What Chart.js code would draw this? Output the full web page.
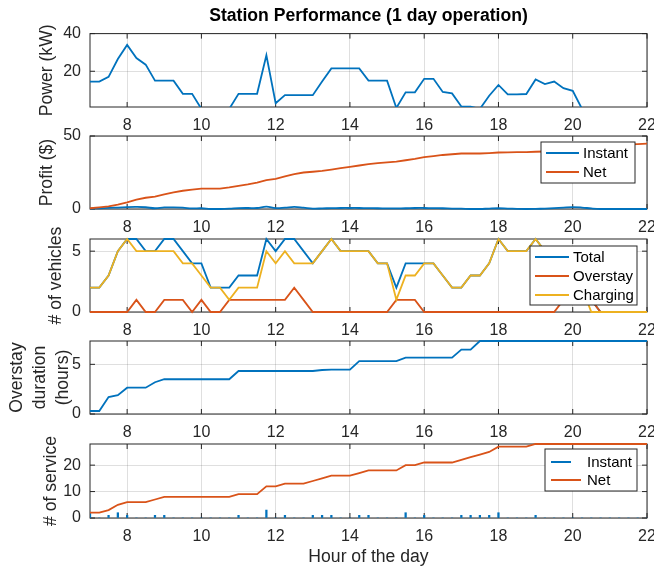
<!DOCTYPE html>
<html>
<head>
<meta charset="utf-8">
<script src="https://cdn.jsdelivr.net/npm/chart.js@4.4.1/dist/chart.umd.min.js"></script>
<style>
  html, body { margin: 0; padding: 0; background: #fff; overflow: hidden; }
  body { width: 654px; height: 567px; position: relative; }
  canvas { position: absolute; left: 0; }
</style>
</head>
<body>
<canvas id="powerChart" width="654" height="137" style="top:0px"></canvas>
<canvas id="profitChart" width="654" height="129" style="top:110px"></canvas>
<canvas id="vehicleChart" width="654" height="129" style="top:213px"></canvas>
<canvas id="overstayChart" width="654" height="129" style="top:315px"></canvas>
<canvas id="serviceChart" width="654" height="150" style="top:418px"></canvas>
<script>
// Data (15 minute steps, 7:00 to 22:00)
const hours = [7, 7.25, 7.5, 7.75, 8, 8.25, 8.5, 8.75, 9, 9.25, 9.5, 9.75, 10, 10.25, 10.5, 10.75,
  11, 11.25, 11.5, 11.75, 12, 12.25, 12.5, 12.75, 13, 13.25, 13.5, 13.75, 14, 14.25, 14.5, 14.75,
  15, 15.25, 15.5, 15.75, 16, 16.25, 16.5, 16.75, 17, 17.25, 17.5, 17.75, 18, 18.25, 18.5, 18.75,
  19, 19.25, 19.5, 19.75, 20, 20.25, 20.5, 20.75, 21, 21.25, 21.5, 21.75, 22];

const powerKW = [14.5, 14.5, 17, 26.5, 34, 27, 23.5, 15, 15, 15,
  8, 8, 0, 0, 0, 0, 8, 8, 8, 28.5,
  3, 7.3, 7.3, 7.3, 7.3, 14.5, 21.5, 21.5, 21.5, 21.5,
  15, 15, 15, 0.5, 8.8, 8.8, 16, 16, 9, 8.2,
  1.3, 1.2, 0, 7, 12.7, 7.7, 7.7, 7.9, 15.6, 13.2,
  14.5, 11, 9.6, 0, 0, 0, 0, 0, 0, 0, 0];

const profitInstant = [0.3, 0.5, 0.8, 1.0, 1.3, 1.4, 1.2, 0.5, 1.1, 1.1,
  0.9, 0.4, 0.5, 0, 0, 0.2, 0.6, 0.7, 0.7, 1.6,
  0.6, 0.9, 1.4, 0.9, 0.3, 0.4, 0.6, 0.7, 0.7, 0.7,
  0.6, 0.5, 0.4, 0.4, 0.5, 0.7, 0.7, 0.6, 0.5, 0.3,
  0.2, 0, 0, 0.3, 0.5, 0.3, 0.1, 0, 0.1, 0.3,
  0.6, 1.0, 1.3, 1.0, 0.4, 0, 0, 0, 0, 0, 0];

const profitNet = [0.5, 1.1, 1.8, 3, 4.5, 6.4, 7.7, 8.5, 10, 11.4,
  12.5, 13.2, 13.9, 13.9, 13.9, 14.8, 15.9, 16.8, 18, 19.8,
  20.7, 22.3, 23.9, 25, 25.5, 26.1, 27, 28, 28.9, 29.8,
  30.7, 31.4, 31.9, 32.5, 33.4, 34.3, 35.5, 36.2, 37, 37.5,
  38, 38, 38, 38.3, 38.7, 38.8, 38.9, 39, 39.2, 39.4,
  39.7, 40.3, 41.2, 42, 42.5, 43, 43.5, 43.9, 44.2, 44.5, 44.8];

const vehiclesTotal = [2, 2, 3, 5, 6, 6, 5, 5, 6, 6,
  5, 4, 4, 2, 2, 2, 3, 3, 3, 6,
  5, 6, 6, 5, 4, 5, 6, 5, 5, 5,
  5, 4, 4, 2, 4, 4, 4, 4, 3, 2,
  2, 3, 3, 4, 6, 5, 5, 5, 6, 5,
  5, 5, 4, 3, 1, 0, 0, 0, 0, 0, 0];

const vehiclesOverstay = [0, 0, 0, 0, 0, 1, 0, 0, 1, 1,
  1, 0, 1, 0, 0, 1, 1, 1, 1, 1,
  1, 1, 2, 1, 0, 0, 0, 0, 0, 0,
  0, 0, 0, 1, 1, 1, 0, 0, 0, 0,
  0, 0, 0, 0, 0, 0, 0, 0, 0, 0,
  0, 1, 1, 1, 1, 0, 0, 0, 0, 0, 0];

const vehiclesCharging = [2, 2, 3, 5, 6, 5, 5, 5, 5, 5,
  4, 4, 3, 2, 2, 1, 2, 2, 2, 5,
  4, 5, 4, 4, 4, 5, 6, 5, 5, 5,
  5, 4, 4, 1, 3, 3, 4, 4, 3, 2,
  2, 3, 3, 4, 6, 5, 5, 5, 6, 5,
  5, 4, 3, 2, 0, 0, 0, 0, 0, 0, 0];

const overstayHours = [0.3, 0.3, 1.7, 1.9, 2.65, 2.65, 2.65, 3.2, 3.5, 3.5,
  3.5, 3.5, 3.5, 3.5, 3.5, 3.5, 4.33, 4.33, 4.33, 4.33,
  4.33, 4.33, 4.33, 4.33, 4.33, 4.43, 4.46, 4.46, 4.46, 5.33,
  5.33, 5.33, 5.33, 5.33, 5.67, 5.67, 5.67, 5.67, 5.67, 5.67,
  6.48, 6.48, 7.35, 7.35, 7.35, 7.35, 7.35, 7.35, 7.35, 7.35,
  7.35, 7.35, 7.35, 7.35, 7.35, 7.35, 7.35, 7.35, 7.35, 7.35, 7.35];

const serviceInstant = [2, 0, 1, 2, 1, 0, 0, 1, 1, 0,
  0, 0, 0, 0, 0, 0, 1, 0, 0, 3,
  0, 1, 0, 0, 1, 1, 1, 0, 0, 1,
  1, 0, 0, 0, 2, 0, 1, 0, 0, 0,
  1, 1, 1, 1, 2, 0, 0, 0, 1, 0,
  0, 0, 0, 0, 0, 0, 0, 0, 0, 0, 0];

const serviceNet = [2, 2, 3, 5, 6, 6, 6, 7, 8, 8,
  8, 8, 8, 8, 8, 8, 9, 9, 9, 12,
  12, 13, 13, 13, 14, 15, 16, 16, 16, 17,
  18, 18, 18, 18, 20, 20, 21, 21, 21, 21,
  22, 23, 24, 25, 27, 27, 27, 27, 28, 28,
  28, 28, 28, 28, 28, 28, 28, 28, 28, 28, 28];

const xTicks = [8, 10, 12, 14, 16, 18, 20, 22];

const AXIS_COLOR = "#262626";
const GRID_COLOR = "rgba(38,38,38,0.15)";
const COLORS = { blue: "#0072BD", orange: "#D95319", yellow: "#EDB120" };
const FONT = "'Liberation Sans', Arial, Helvetica, sans-serif";

function series(values) {
  return hours.map((h, i) => ({ x: h, y: values[i] }));
}

// Box round the plot area with inward tick marks (matlab style)
const axesBox = {
  id: "axesBox",
  beforeDatasetsDraw(chart) {
    const { ctx, chartArea: a, scales } = chart;
    const tl = 5;
    ctx.save();
    ctx.strokeStyle = AXIS_COLOR;
    ctx.lineWidth = 1;
    ctx.strokeRect(a.left, a.top, a.right - a.left, a.bottom - a.top);
    ctx.beginPath();
    scales.x.ticks.forEach((t) => {
      const px = scales.x.getPixelForValue(t.value);
      ctx.moveTo(px, a.bottom);
      ctx.lineTo(px, a.bottom - tl);
      ctx.moveTo(px, a.top);
      ctx.lineTo(px, a.top + tl);
    });
    scales.y.ticks.forEach((t) => {
      const py = scales.y.getPixelForValue(t.value);
      ctx.moveTo(a.left, py);
      ctx.lineTo(a.left + tl, py);
      ctx.moveTo(a.right, py);
      ctx.lineTo(a.right - tl, py);
    });
    ctx.stroke();
    ctx.restore();
  },
};

// Legend box drawn inside the axes, top right
const boxLegend = {
  id: "boxLegend",
  afterDatasetsDraw(chart, args, opts) {
    if (!opts.box) return;
    const ctx = chart.ctx;
    const [x, y, w, h] = opts.box;
    ctx.save();
    ctx.fillStyle = "#fff";
    ctx.fillRect(x, y, w, h);
    ctx.strokeStyle = AXIS_COLOR;
    ctx.lineWidth = 1;
    ctx.strokeRect(x, y, w, h);
    ctx.font = "15px " + FONT;
    ctx.textBaseline = "middle";
    ctx.fillStyle = "#000";
    chart.data.datasets.forEach((ds, i) => {
      const ry = opts.rows[i];
      const [l0, l1] = opts.lines[i] || opts.lines[0];
      ctx.strokeStyle = ds.borderColor || ds.backgroundColor;
      ctx.lineWidth = 2;
      ctx.beginPath();
      ctx.moveTo(l0, ry);
      ctx.lineTo(l1, ry);
      ctx.stroke();
      ctx.fillText(ds.label, opts.textX, ry + 1);
    });
    ctx.restore();
  },
};

function createPanel(canvasId, cfg) {
  const ctx = document.getElementById(canvasId).getContext("2d");
  const top = cfg.top;

  // legend positions are given in page pixels, move them into the canvas
  let legend = false;
  if (cfg.legend) {
    const b = cfg.legend.box;
    legend = {
      box: [b[0], b[1] - top, b[2], b[3]],
      rows: cfg.legend.rows.map((r) => r - top),
      lines: cfg.legend.lines,
      textX: cfg.legend.textX,
    };
  }

  const n = cfg.datasets.length;
  cfg.datasets.forEach((ds, i) => {
    ds.order = n - i; // later series are drawn on top
  });

  return new Chart(ctx, {
    type: "line",
    data: { datasets: cfg.datasets },
    options: {
      responsive: false,
      animation: false,
      events: [],
      layout: { padding: { left: cfg.yTitleLeft, right: 7, top: cfg.padTop, bottom: 0 } },
      elements: {
        point: { radius: 0 },
        line: { borderWidth: 1.8, tension: 0 },
      },
      plugins: {
        legend: { display: false },
        tooltip: { enabled: false },
        title: cfg.title
          ? {
              display: true,
              text: cfg.title,
              fullSize: false,
              color: "#000",
              font: { family: FONT, size: 17.6, weight: "bold" },
              padding: { top: 6, bottom: 6.5 },
            }
          : { display: false },
        boxLegend: legend,
      },
      scales: {
        x: {
          type: "linear",
          min: 7,
          max: 22,
          offset: false,
          afterBuildTicks: (axis) => {
            axis.ticks = xTicks.map((v) => ({ value: v }));
          },
          afterFit: (scale) => {
            scale.height = cfg.xHeight;
            scale.paddingLeft = 0;
            scale.paddingRight = 0;
          },
          grid: { color: GRID_COLOR, drawTicks: false, offset: false },
          border: { display: false },
          ticks: {
            color: AXIS_COLOR,
            font: { family: FONT, size: 16 },
            padding: 9,
            maxRotation: 0,
            autoSkip: false,
          },
          title: cfg.xTitle
            ? {
                display: true,
                text: cfg.xTitle,
                color: AXIS_COLOR,
                font: { family: FONT, size: 17.6 },
                padding: 0,
              }
            : { display: false },
        },
        y: {
          min: cfg.yMin,
          max: cfg.yMax,
          afterBuildTicks: (axis) => {
            axis.ticks = cfg.yTicks.map((v) => ({ value: v }));
          },
          afterFit: (scale) => {
            scale.width = 90 - cfg.yTitleLeft;
            scale.paddingTop = 0;
            scale.paddingBottom = 0;
          },
          grid: { color: GRID_COLOR, drawTicks: false },
          border: { display: false },
          ticks: {
            color: AXIS_COLOR,
            font: { family: FONT, size: 16 },
            padding: 9,
          },
          title: {
            display: true,
            text: cfg.yTitle,
            color: AXIS_COLOR,
            font: { family: FONT, size: 17.6, lineHeight: cfg.yTitleLineHeight || 1.2 },
            padding: 0,
          },
        },
      },
    },
    plugins: [axesBox, boxLegend],
  });
}

createPanel("powerChart", {
  top: 0,
  padTop: 0,
  title: "Station Performance (1 day operation)",
  yTitle: "Power (kW)",
  yTitleLeft: 37,
  yMin: 1,
  yMax: 40,
  yTicks: [20, 40],
  xHeight: 30,
  datasets: [
    { label: "Power", data: series(powerKW), borderColor: COLORS.blue },
  ],
});

createPanel("profitChart", {
  top: 110,
  padTop: 26,
  yTitle: "Profit ($)",
  yTitleLeft: 37,
  yMin: 0,
  yMax: 50,
  yTicks: [0, 50],
  xHeight: 30,
  datasets: [
    { label: "Instant", data: series(profitInstant), borderColor: COLORS.blue, tension: 0.4, clip: 2 },
    { label: "Net", data: series(profitNet), borderColor: COLORS.orange, clip: 2 },
  ],
  legend: {
    box: [541, 142, 94, 41],
    rows: [153, 172],
    lines: [[546, 579]],
    textX: 583,
  },
});

createPanel("vehicleChart", {
  top: 213,
  padTop: 26,
  yTitle: "# of vehicles",
  yTitleLeft: 46,
  yMin: 0,
  yMax: 6,
  yTicks: [0, 5],
  xHeight: 30,
  datasets: [
    { label: "Total", data: series(vehiclesTotal), borderColor: COLORS.blue, clip: 2 },
    { label: "Overstay", data: series(vehiclesOverstay), borderColor: COLORS.orange, clip: 2 },
    { label: "Charging", data: series(vehiclesCharging), borderColor: COLORS.yellow, clip: 2 },
  ],
  legend: {
    box: [530, 246, 107, 59],
    rows: [257, 276, 295],
    lines: [[535, 569]],
    textX: 573,
  },
});

createPanel("overstayChart", {
  top: 315,
  padTop: 26,
  yTitle: ["Overstay", "duration", "(hours)"],
  yTitleLeft: 6,
  yTitleLineHeight: 1.3,
  yMin: 0,
  yMax: 7.35,
  yTicks: [0, 5],
  xHeight: 30,
  datasets: [
    { label: "Overstay", data: series(overstayHours), borderColor: COLORS.blue, clip: 2 },
  ],
});

createPanel("serviceChart", {
  top: 418,
  padTop: 26,
  yTitle: "# of service",
  yTitleLeft: 41,
  yMin: 0,
  yMax: 28,
  yTicks: [0, 10, 20],
  xHeight: 50,
  xTitle: "Hour of the day",
  datasets: [
    {
      type: "bar",
      label: "Instant",
      data: series(serviceInstant),
      backgroundColor: COLORS.blue,
      borderColor: COLORS.blue,
      barThickness: 1.6,
    },
    { label: "Net", data: series(serviceNet), borderColor: COLORS.orange, clip: 2 },
  ],
  legend: {
    box: [545, 449, 92, 42],
    rows: [462, 480],
    lines: [[551, 571], [551, 581]],
    textX: 587,
  },
});
</script>
</body>
</html>
